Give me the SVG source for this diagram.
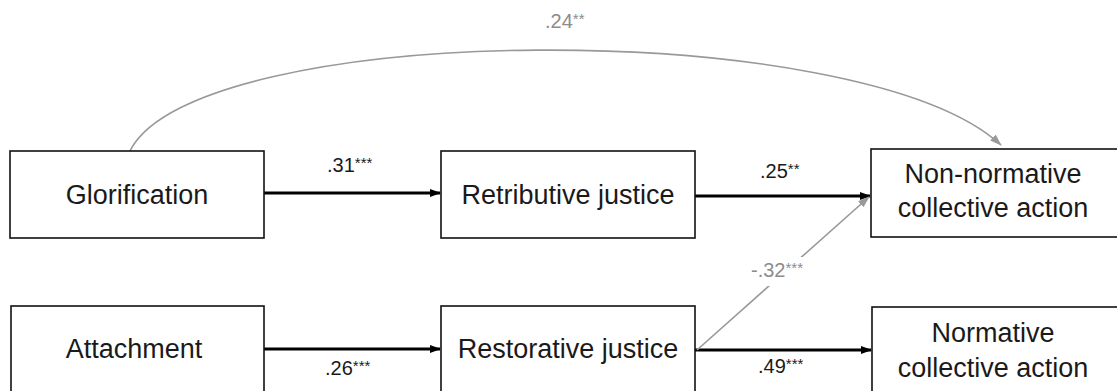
<svg xmlns="http://www.w3.org/2000/svg" width="1117" height="391" viewBox="0 0 1117 391">
<style>
.box{fill:#fff;stroke:#111;stroke-width:1.6}
.t{font-family:"Liberation Sans",Arial,Helvetica,sans-serif;font-size:27px;fill:#1a1a1a;text-anchor:middle}
.lbl{font-family:"Liberation Sans",Arial,Helvetica,sans-serif;font-size:20px;fill:#1a1a1a}
.lblg{font-family:"Liberation Sans",Arial,Helvetica,sans-serif;font-size:20px;fill:#8c8c8c}
.s{font-size:15px}
.blk{stroke:#000;stroke-width:2.8;fill:none}
.gry{stroke:#999;stroke-width:1.6;fill:none}
</style>
<defs>
<marker id="ab" markerUnits="userSpaceOnUse" markerWidth="11" markerHeight="11" viewBox="0 0 11 11" refX="10" refY="5.5" orient="auto"><path d="M0,1.5 L11,5.5 L0,9.5 z" fill="#000"/></marker>
<marker id="ag" markerUnits="userSpaceOnUse" markerWidth="12" markerHeight="12" viewBox="0 0 12 12" refX="11" refY="6" orient="auto"><path d="M0,2 L12,6 L0,10 z" fill="#999"/></marker>
</defs>
<rect width="1117" height="391" fill="#fff"/>
<g id="connectors">
<path class="gry" d="M130,151 C195,20 860,15 1001,145" marker-end="url(#ag)"/>
<line class="blk" x1="264" y1="193" x2="440" y2="193" marker-end="url(#ab)"/>
<line class="blk" x1="695" y1="196" x2="870" y2="196" marker-end="url(#ab)"/>
<line class="blk" x1="264" y1="349" x2="440" y2="349" marker-end="url(#ab)"/>
<line class="blk" x1="695" y1="350" x2="871" y2="350" marker-end="url(#ab)"/>
<line class="gry" x1="697" y1="350" x2="869" y2="197" marker-end="url(#ag)"/>
<rect x="748" y="257" width="68" height="29" fill="#fff"/>
<text class="lblg" x="545" y="28">.24<tspan class="s" dy="-4">**</tspan></text>
<text class="lbl" x="327" y="172">.31<tspan class="s" dy="-4">***</tspan></text>
<text class="lbl" x="760" y="178">.25<tspan class="s" dy="-4">**</tspan></text>
<text class="lbl" x="325" y="375">.26<tspan class="s" dy="-4">***</tspan></text>
<text class="lbl" x="758" y="373">.49<tspan class="s" dy="-4">***</tspan></text>
<text class="lblg" x="751" y="277">-.32<tspan class="s" dy="-4">***</tspan></text>
</g>
<g id="glorification"><rect class="box" x="10" y="151" width="254" height="87"/><text class="t" x="137" y="204">Glorification</text></g>
<g id="retributive"><rect class="box" x="441" y="151" width="254" height="87"/><text class="t" x="568" y="204">Retributive justice</text></g>
<g id="nonnormative"><rect class="box" x="871" y="149" width="260" height="88"/><text class="t" x="993" y="183">Non-normative</text><text class="t" x="993" y="217">collective action</text></g>
<g id="attachment"><rect class="box" x="11" y="306" width="253" height="100"/><text class="t" x="134" y="358">Attachment</text></g>
<g id="restorative"><rect class="box" x="441" y="306" width="254" height="100"/><text class="t" x="568" y="358">Restorative justice</text></g>
<g id="normative"><rect class="box" x="872" y="307" width="260" height="100"/><text class="t" x="993" y="342">Normative</text><text class="t" x="993" y="377">collective action</text></g>
</svg>
